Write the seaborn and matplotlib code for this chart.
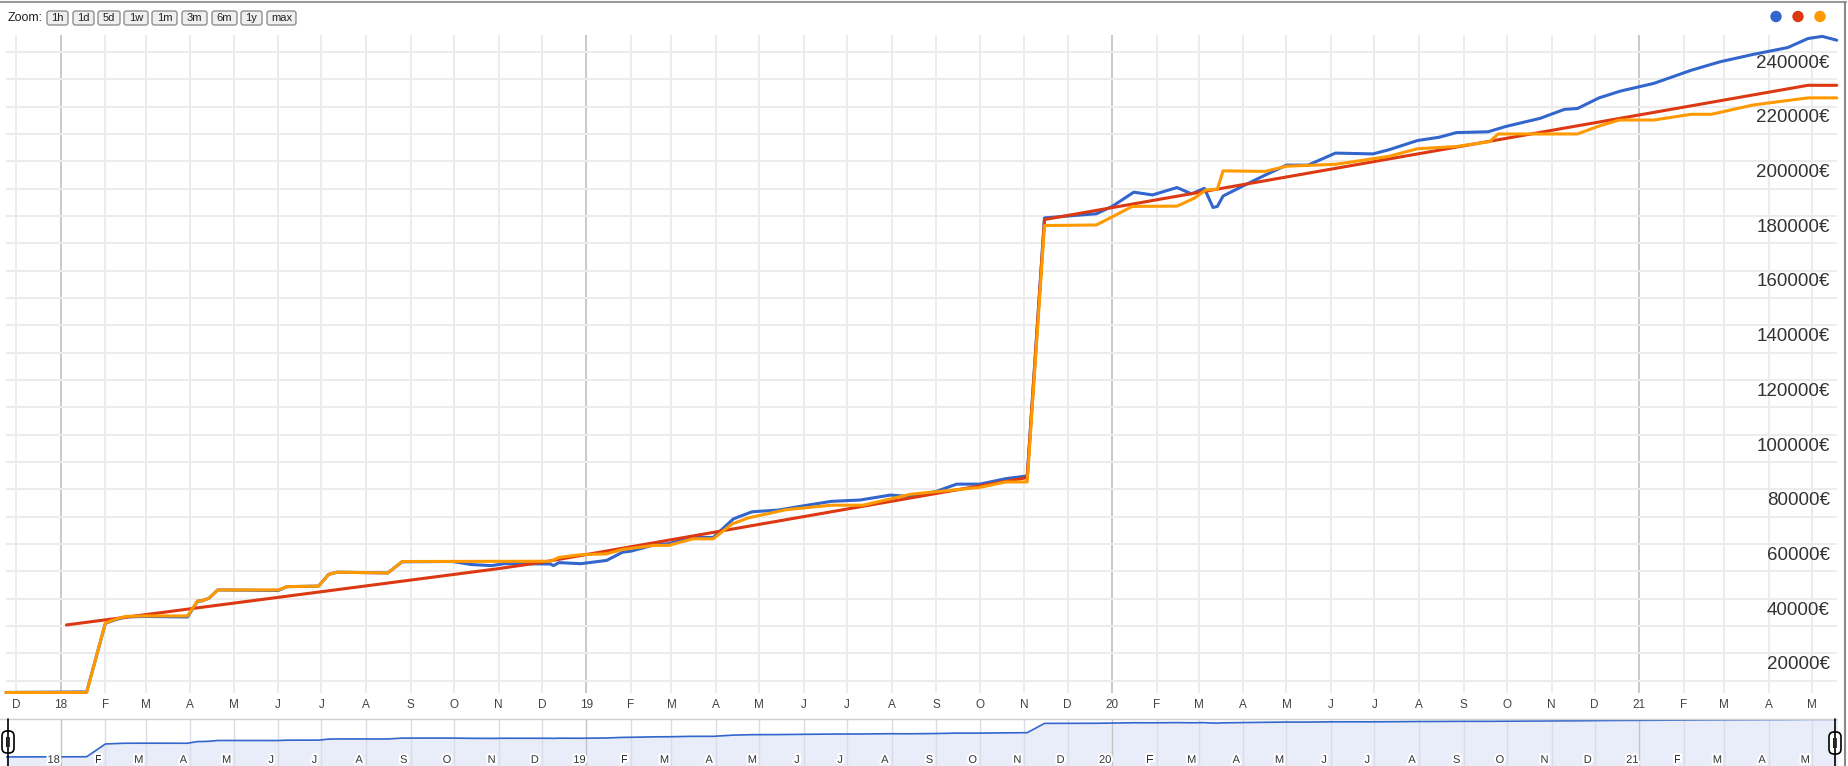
import numpy as np
import pandas as pd
import matplotlib
matplotlib.use("Agg")
import matplotlib.pyplot as plt
import matplotlib.transforms as mtransforms
import matplotlib.patheffects as pe
import matplotlib.dates as mdates
from matplotlib.patches import FancyBboxPatch, Circle
from matplotlib.lines import Line2D
import seaborn as sns

sns.set_style("white")
plt.rcParams["font.family"] = ["Liberation Sans", "DejaVu Sans"]

W, H = 1848, 766

BLUE = "#3366cc"
RED = "#dc3912"
ORANGE = "#ff9900"

# ---------------------------------------------------------------
# Data
# ---------------------------------------------------------------
blue_dates = [
    "2017-11-24", "2018-01-19", "2018-02-01", "2018-02-08", "2018-02-15", "2018-02-28",
    "2018-03-30", "2018-04-06", "2018-04-09", "2018-04-14", "2018-04-20", "2018-06-01",
    "2018-06-07", "2018-06-29", "2018-07-06", "2018-07-12", "2018-08-16", "2018-08-26",
    "2018-09-30", "2018-10-13", "2018-10-27", "2018-11-05", "2018-12-07", "2018-12-09",
    "2018-12-13", "2018-12-28", "2019-01-15", "2019-01-26", "2019-02-01", "2019-02-17",
    "2019-02-27", "2019-03-15", "2019-03-30", "2019-04-13", "2019-04-26", "2019-05-14",
    "2019-06-01", "2019-06-20", "2019-07-10", "2019-07-31", "2019-08-13", "2019-08-31",
    "2019-09-15", "2019-10-01", "2019-10-19", "2019-11-03", "2019-11-15", "2019-12-21",
    "2020-01-01", "2020-01-16", "2020-01-29", "2020-02-15", "2020-02-25", "2020-03-05",
    "2020-03-11", "2020-03-14", "2020-03-18", "2020-04-02", "2020-04-16", "2020-05-01",
    "2020-05-16", "2020-06-04", "2020-06-30", "2020-07-11", "2020-07-31", "2020-08-15",
    "2020-08-27", "2020-09-18", "2020-09-30", "2020-10-24", "2020-11-10", "2020-11-19",
    "2020-12-04", "2020-12-19", "2021-01-11", "2021-02-06", "2021-02-26", "2021-03-21",
    "2021-04-14", "2021-04-28", "2021-05-08", "2021-05-18",
]
blue_vals = [
    15700, 15900, 41000, 42300, 43300, 43500,
    43300, 49100, 49200, 50200, 53200, 53000,
    54400, 54600, 58900, 59700, 59400, 63500,
    63600, 62500, 62100, 62800, 62700, 62100,
    63200, 62800, 64000, 67000, 67400, 69700,
    70100, 72400, 72400, 79200, 81800, 82400,
    84000, 85600, 86100, 87900, 87400, 89100,
    91900, 91900, 93900, 94900, 189300, 190800,
    193500, 198700, 197700, 200400, 198100, 200100,
    193100, 193500, 197300, 201300, 204900, 208600,
    208600, 213000, 212700, 214200, 217600, 218800,
    220500, 220800, 222700, 225700, 229000, 229300,
    233200, 235700, 238500, 243300, 246400, 249100,
    251600, 254900, 255700, 254300,
]

red_dates = ["2018-01-05", "2018-11-01", "2018-12-01", "2019-11-03",
             "2019-11-15", "2021-04-28", "2021-05-18"]
red_vals = [40400, 61000, 63300, 94300, 188700, 237800, 237800]

orange_dates = [
    "2017-11-24", "2018-01-19", "2018-02-01", "2018-02-08", "2018-02-15", "2018-02-28",
    "2018-03-30", "2018-04-06", "2018-04-09", "2018-04-14", "2018-04-20", "2018-06-01",
    "2018-06-07", "2018-06-29", "2018-07-06", "2018-07-12", "2018-08-16", "2018-08-26",
    "2018-12-07", "2018-12-13", "2018-12-28", "2019-01-15", "2019-01-26", "2019-02-17",
    "2019-02-27", "2019-03-16", "2019-03-30", "2019-04-12", "2019-04-23", "2019-05-19",
    "2019-06-20", "2019-07-12", "2019-08-14", "2019-08-31", "2019-10-01", "2019-10-19",
    "2019-11-03", "2019-11-15", "2019-12-21", "2020-01-15", "2020-02-15", "2020-02-27",
    "2020-03-06", "2020-03-14", "2020-03-18", "2020-04-16", "2020-05-01", "2020-06-04",
    "2020-07-11", "2020-07-31", "2020-08-27", "2020-09-19", "2020-09-25", "2020-11-19",
    "2020-12-04", "2020-12-18", "2021-01-11", "2021-02-06", "2021-02-20", "2021-03-21",
    "2021-04-28", "2021-05-18",
]
orange_vals = [
    15700, 15700, 41100, 42500, 43500, 43700,
    43700, 49200, 49200, 50200, 53200, 53200,
    54400, 54600, 58900, 59700, 59400, 63600,
    63700, 65100, 66100, 66400, 68000, 69500,
    69500, 71900, 71900, 77300, 79500, 82500,
    84200, 84200, 88200, 89100, 90700, 92700,
    92700, 186500, 186700, 193500, 193600, 196500,
    199500, 199800, 206500, 206300, 208200, 208900,
    211800, 214600, 215400, 217200, 220000, 220000,
    222900, 225100, 225100, 227200, 227200, 230600,
    233200, 233200,
]

# month tick labels, Dec 2017 .. May 2021
month_labels = ["D", "18", "F", "M", "A", "M", "J", "J", "A", "S", "O", "N",
                "D", "19", "F", "M", "A", "M", "J", "J", "A", "S", "O", "N",
                "D", "20", "F", "M", "A", "M", "J", "J", "A", "S", "O", "N",
                "D", "21", "F", "M", "A", "M"]
month_dates = pd.date_range("2017-12-01", periods=len(month_labels), freq="MS")
y_labels = list(range(20000, 240001, 20000))
zoom_buttons = ["1h", "1d", "5d", "1w", "1m", "3m", "6m", "1y", "max"]

blue_df = pd.DataFrame({"date": pd.to_datetime(blue_dates), "value": blue_vals})
red_df = pd.DataFrame({"date": pd.to_datetime(red_dates), "value": red_vals})
orange_df = pd.DataFrame({"date": pd.to_datetime(orange_dates), "value": orange_vals})

X0, X1 = pd.Timestamp("2017-11-24"), pd.Timestamp("2021-05-18")
PIX = mtransforms.IdentityTransform()

fig = plt.figure(figsize=(W / 100, H / 100), dpi=100)

# ---------------------------------------------------------------
# Main chart
# ---------------------------------------------------------------
ax = fig.add_axes([6 / W, (H - 693) / H, 1830.7 / W, 658 / H])
for df, col in [(blue_df, BLUE), (red_df, RED), (orange_df, ORANGE)]:
    sns.lineplot(data=df, x="date", y="value", ax=ax, color=col, linewidth=2.2,
                 estimator=None, legend=False, clip_on=False)

ax.set_xlim(X0, X1)
ax.set_ylim(15500, 256200)
ax.set_yticks(np.arange(20000, 250001, 10000))
ax.set_xticks(month_dates)
ax.set_xticklabels(month_labels)
ax.tick_params(axis="y", left=False, labelleft=False)
ax.tick_params(axis="x", length=0, pad=4, labelsize=8.5, labelcolor="#444444")
ax.grid(True, color="#ececec", linewidth=1.4)
ax.set_axisbelow(True)
for gl, lab in zip(ax.get_xgridlines(), month_labels):
    if lab.isdigit():
        gl.set_color("#c9c9c9")
ax.set_xlabel("")
ax.set_ylabel("")
sns.despine(ax=ax, left=True, bottom=True)

for v in y_labels:
    ax.annotate(f"{v}€", xy=(1, v), xycoords=("axes fraction", "data"),
                xytext=(-7, 16), textcoords="offset pixels", ha="right", va="center",
                fontsize=13.5, color="#333333")

# ---------------------------------------------------------------
# Navigator strip
# ---------------------------------------------------------------
nav = fig.add_axes([6 / W, 0, 1830.7 / W, 47 / H])
nav.fill_between(blue_df["date"], blue_df["value"], 1, color="#e8edf9", zorder=1)
sns.lineplot(data=blue_df, x="date", y="value", ax=nav, color=BLUE, linewidth=1.2,
             estimator=None, legend=False, zorder=3)
nav.set_yscale("log")
nav.set_ylim(8000, 262000)
nav.set_xlim(X0, X1)
nav.set_xticks([])
nav.set_yticks([])
nav.minorticks_off()
nav.set_xlabel("")
nav.set_ylabel("")
for s in nav.spines.values():
    s.set_visible(False)
lab_trans = mtransforms.offset_copy(nav.get_xaxis_transform(), fig=fig, x=-7, y=0, units="dots")
for d, lab in zip(month_dates[1:], month_labels[1:]):
    nav.axvline(d, color="#c4c4c4" if lab.isdigit() else "#dadde6", linewidth=1, zorder=2)
    nav.text(mdates.date2num(d), 0.13, lab, transform=lab_trans, ha="center", va="center",
             fontsize=8, color="#333333", zorder=4,
             path_effects=[pe.withStroke(linewidth=3, foreground="white")])

fig.add_artist(Line2D([0, 1837], [H - 719, H - 719], transform=PIX, color="#cfcfcf", lw=1))
for hx, hy in [(8, 742), (1835, 743)]:
    fig.add_artist(Line2D([hx, hx], [0, H - 719], transform=PIX, color="black", lw=1.2))
    fig.add_artist(FancyBboxPatch((hx - 6, H - hy - 11), 12, 22, transform=PIX,
                                  boxstyle="round,pad=0,rounding_size=5",
                                  fc="white", ec="black", lw=1.2))
    fig.text(hx, H - hy, "||", transform=PIX, ha="center", va="center",
             fontsize=8, color="black")

# ---------------------------------------------------------------
# Frame, zoom buttons and legend dots
# ---------------------------------------------------------------
fig.add_artist(Line2D([0, 1846], [H - 2, H - 2], transform=PIX, color="#9a9a9a", lw=1.5))
fig.add_artist(Line2D([1845, 1845], [0, H - 2], transform=PIX, color="#8a8a8a", lw=1.5))

fig.text(8, H - 18, "Zoom:", transform=PIX, ha="left", va="center", fontsize=9, color="#222222")
btn_left = [47, 73, 98, 124, 152, 182, 212, 241, 267]
btn_width = [21, 21, 22, 24, 25, 25, 25, 21, 29]
for bx, bw, lab in zip(btn_left, btn_width, zoom_buttons):
    fig.add_artist(FancyBboxPatch((bx, H - 25), bw, 14, transform=PIX,
                                  boxstyle="round,pad=0,rounding_size=2.5",
                                  fc="#efefef", ec="#8f8f8f", lw=1))
    fig.text(bx + bw / 2, H - 18, lab, transform=PIX, ha="center", va="center",
             fontsize=8, color="#222222")

for cx, col in zip([1776, 1798, 1820], [BLUE, RED, ORANGE]):
    fig.add_artist(Circle((cx, H - 16.5), 5, transform=PIX, color=col))

fig.savefig("out.png", dpi=100)
plt.close(fig)
